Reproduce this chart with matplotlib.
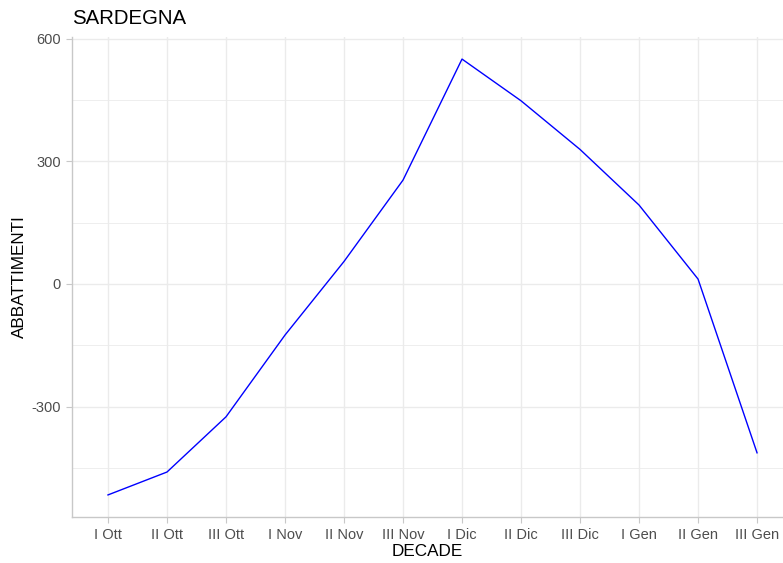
import matplotlib
matplotlib.use("Agg")
import matplotlib.pyplot as plt
import numpy as np

# Data
decadi = ["I Ott", "II Ott", "III Ott", "I Nov", "II Nov", "III Nov",
          "I Dic", "II Dic", "III Dic", "I Gen", "II Gen", "III Gen"]
abbattimenti = [-516, -460, -325, -125, 55, 254,
                550, 448, 329, 193, 12, -413]
y_ticks = [-300, 0, 300, 600]
y_minor = [-450, -150, 150, 450]

plt.rcParams['font.family'] = ['Liberation Sans', 'DejaVu Sans']
plt.rcParams['axes.unicode_minus'] = False

fig = plt.figure(figsize=(7.83, 5.63), dpi=100)
ax = fig.add_axes([72/783, 46/563, 1 - 72/783, (517 - 37)/563])

x = np.arange(len(decadi))
ax.plot(x, abbattimenti, color='#0000FF', linewidth=1.0)

# Axes limits like ggplot's discrete expansion
ax.set_xlim(-0.61, 11.44)
ax.set_ylim(-570, 604)

ax.set_xticks(x)
ax.set_xticklabels(decadi)
ax.set_yticks(y_ticks)
ax.set_yticks(y_minor, minor=True)

# Grid (theme_minimal style)
ax.grid(True, which='major', color='#EBEBEB', linewidth=1.0)
ax.grid(True, which='minor', axis='y', color='#EBEBEB', linewidth=0.6)
ax.set_axisbelow(True)

for side in ['top', 'right']:
    ax.spines[side].set_visible(False)
for side in ['left', 'bottom']:
    ax.spines[side].set_color('#C8C8C8')
    ax.spines[side].set_linewidth(1.0)

ax.tick_params(axis='both', which='major', length=4, width=0.8, color='#C8C8C8',
               labelcolor='#4D4D4D', labelsize=10.5, pad=4)
ax.tick_params(axis='y', which='minor', length=0)

ax.set_xlabel('DECADE', fontsize=12.3, color='black', labelpad=1)
ax.set_ylabel('ABBATTIMENTI', fontsize=12.3, color='black', labelpad=3)
ax.set_title('SARDEGNA', fontsize=14.7, loc='left', color='black', pad=9)

fig.savefig('out.png', dpi=100)
